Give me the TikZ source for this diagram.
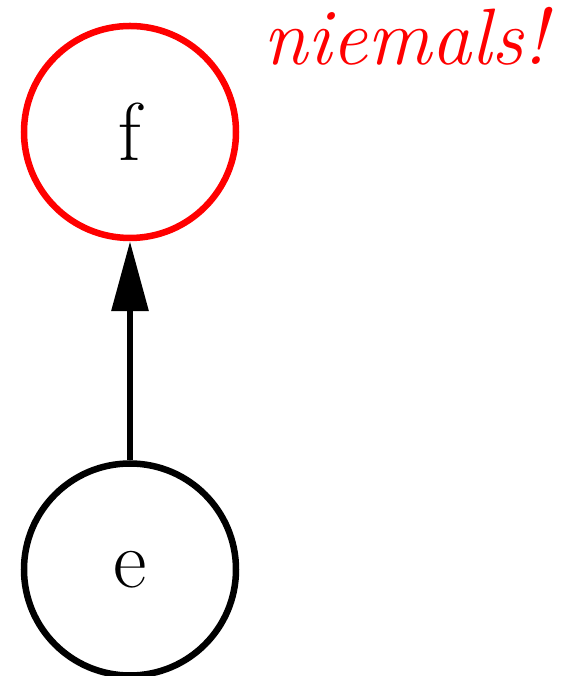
\documentclass[tikz,border=0pt]{standalone}
\usepackage{xcolor}
\usepackage{tikz}
\usetikzlibrary{arrows.meta,positioning}
\definecolor{nevered}{HTML}{FF0000}

\begin{document}
\begin{tikzpicture}[
  x=1pt, y=1pt,
  state/.style={draw, circle, line width=6.5pt, minimum size=212pt, inner sep=0pt,
                font=\fontsize{82}{96}\selectfont},
  edge/.style={line width=6.5pt, -{Triangle[length=70pt, width=36pt]}},
]
  \useasboundingbox (0,0) rectangle (563,676);
  \node[state, draw=nevered] (f) at (130,544) {f};
  \node[state, below=219pt of f] (e) {e};
  \node[anchor=base west, inner sep=0pt, text=nevered,
        font=\fontsize{80}{96}\selectfont\itshape] (never) at (263,611) {niemals!};
  \draw[edge] (e) -- (f);
\end{tikzpicture}
\end{document}
